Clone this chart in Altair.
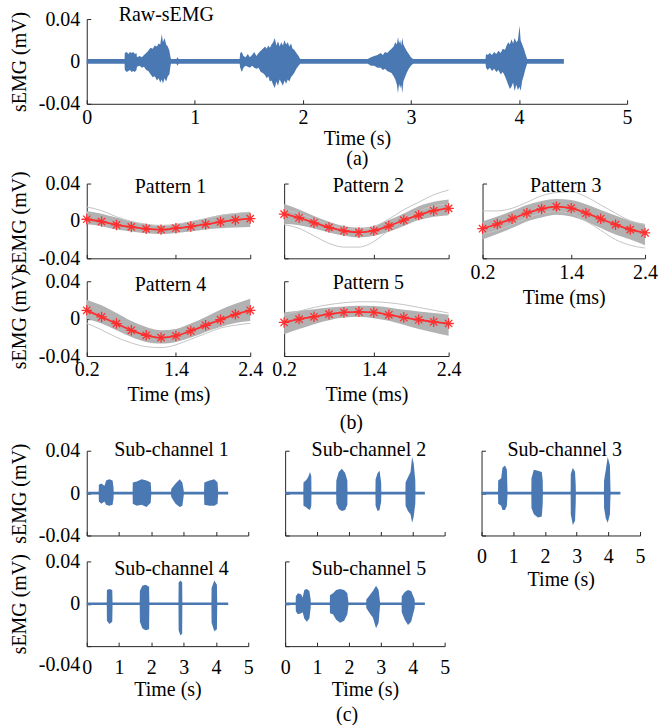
import altair as alt
import pandas as pd

FONT = "Liberation Serif"
BLUE = "#4a78b2"
BAND = "#b2b2b2"
THIN = "#c4c4c4"
RED = "#ff2f2f"
AXC = "#262626"
STAR = "M0,-1L0,1M-1,0L1,0M-0.7,-0.7L0.7,0.7M-0.7,0.7L0.7,-0.7"

# ---------------- (a) raw sEMG envelope: (time s, upper mV, lower mV) ----------------
RAW_ENV = [
    (0.000, 0.0022, -0.0022), (0.350, 0.0022, -0.0022),
    (0.352, 0.008, -0.008), (0.370, 0.009, -0.010), (0.385, 0.007, -0.009), (0.400, 0.009, -0.008),
    (0.415, 0.008, -0.010), (0.430, 0.009, -0.009), (0.445, 0.007, -0.010), (0.460, 0.008, -0.008),
    (0.465, 0.004, -0.005), (0.490, 0.005, -0.004), (0.510, 0.004, -0.006), (0.530, 0.006, -0.005),
    (0.550, 0.008, -0.008), (0.570, 0.010, -0.009), (0.590, 0.013, -0.012), (0.610, 0.012, -0.015),
    (0.630, 0.015, -0.014), (0.650, 0.014, -0.018), (0.665, 0.017, -0.016), (0.680, 0.016, -0.020),
    (0.695, 0.026, -0.017), (0.705, 0.018, -0.021), (0.720, 0.022, -0.016), (0.735, 0.016, -0.019),
    (0.750, 0.014, -0.014), (0.765, 0.010, -0.012), (0.775, 0.004, -0.004), (0.780, 0.0022, -0.0022),
    (0.830, 0.0022, -0.0022), (0.840, 0.004, -0.004), (0.850, 0.0022, -0.0022),
    (1.415, 0.0022, -0.0022),
    (1.420, 0.008, -0.006), (1.435, 0.009, -0.010), (1.450, 0.005, -0.006), (1.470, 0.004, -0.004),
    (1.490, 0.007, -0.005), (1.510, 0.004, -0.006), (1.530, 0.006, -0.004), (1.550, 0.009, -0.006),
    (1.570, 0.005, -0.007), (1.590, 0.008, -0.006), (1.610, 0.010, -0.010), (1.630, 0.012, -0.011),
    (1.650, 0.014, -0.013), (1.665, 0.012, -0.016), (1.680, 0.015, -0.014), (1.695, 0.013, -0.019),
    (1.710, 0.016, -0.018), (1.725, 0.018, -0.022), (1.740, 0.022, -0.025), (1.755, 0.015, -0.019),
    (1.770, 0.019, -0.023), (1.785, 0.014, -0.017), (1.800, 0.018, -0.020), (1.815, 0.015, -0.023),
    (1.830, 0.020, -0.018), (1.845, 0.016, -0.021), (1.860, 0.018, -0.017), (1.875, 0.014, -0.019),
    (1.890, 0.017, -0.015), (1.905, 0.012, -0.013), (1.920, 0.011, -0.011), (1.940, 0.008, -0.007),
    (1.960, 0.005, -0.004), (1.975, 0.0022, -0.0022),
    (2.600, 0.0022, -0.0022),
    (2.630, 0.004, -0.004), (2.660, 0.005, -0.004), (2.690, 0.006, -0.006), (2.720, 0.008, -0.006),
    (2.740, 0.006, -0.008), (2.760, 0.009, -0.007), (2.780, 0.008, -0.009), (2.800, 0.010, -0.010),
    (2.820, 0.012, -0.011), (2.840, 0.014, -0.014), (2.855, 0.018, -0.017), (2.870, 0.016, -0.022),
    (2.880, 0.023, -0.030), (2.890, 0.017, -0.021), (2.900, 0.020, -0.025), (2.910, 0.015, -0.022),
    (2.920, 0.022, -0.030), (2.930, 0.016, -0.019), (2.945, 0.013, -0.015), (2.960, 0.010, -0.011),
    (2.980, 0.007, -0.007), (3.000, 0.004, -0.004), (3.020, 0.0022, -0.0022),
    (3.690, 0.0022, -0.0022),
    (3.695, 0.007, -0.006), (3.710, 0.006, -0.008), (3.730, 0.008, -0.006), (3.750, 0.006, -0.009),
    (3.770, 0.009, -0.007), (3.790, 0.007, -0.010), (3.810, 0.010, -0.008), (3.830, 0.008, -0.012),
    (3.850, 0.012, -0.010), (3.870, 0.011, -0.014), (3.885, 0.015, -0.018), (3.900, 0.018, -0.022),
    (3.915, 0.016, -0.026), (3.930, 0.021, -0.024), (3.945, 0.017, -0.020), (3.960, 0.022, -0.028),
    (3.975, 0.018, -0.022), (3.990, 0.020, -0.027), (4.005, 0.034, -0.024), (4.015, 0.020, -0.028),
    (4.030, 0.016, -0.018), (4.045, 0.012, -0.013), (4.060, 0.007, -0.007), (4.075, 0.0022, -0.0022),
    (4.415, 0.0022, -0.0022),
]

# ---------------- (b) patterns ----------------
PT = [0.2, 0.4, 0.6, 0.8, 1.0, 1.2, 1.4, 1.6, 1.8, 2.0, 2.2, 2.4]

P1_MEAN = [0.0018, -0.0007, -0.0043, -0.0064, -0.0085, -0.0093, -0.0078, -0.0060, -0.0036, -0.0011, 0.0011, 0.0025]
P1_UP = [0.0107, 0.0078, 0.0036, -0.0007, -0.0036, -0.0050, -0.0036, -0.0007, 0.0028, 0.0064, 0.0082, 0.0096]
P1_LO = [-0.0036, -0.0057, -0.0093, -0.0114, -0.0132, -0.0139, -0.0128, -0.0114, -0.0093, -0.0078, -0.0071, -0.0064]
P1_OUT = [[0.0150, 0.0110, 0.0045, -0.0005, -0.0035, -0.0048, -0.0035, -0.0008, 0.0025, 0.0060, 0.0080, 0.0094]]

P2_MEAN = [0.0073, 0.0034, -0.0020, -0.0069, -0.0105, -0.0123, -0.0105, -0.0055, 0.0009, 0.0062, 0.0109, 0.0134]
P2_UP = [0.0180, 0.0123, 0.0052, -0.0009, -0.0055, -0.0073, -0.0055, 0.0009, 0.0080, 0.0158, 0.0205, 0.0230]
P2_LO = [-0.0034, -0.0045, -0.0080, -0.0123, -0.0158, -0.0176, -0.0158, -0.0116, -0.0055, 0.0009, 0.0045, 0.0062]
P2_OUT = [[-0.004, -0.008, -0.016, -0.024, -0.028, -0.028, -0.022, -0.010, 0.001, 0.010, 0.016, 0.018],
          [0.012, 0.008, 0.002, -0.004, -0.008, -0.009, -0.006, 0.002, 0.012, 0.020, 0.028, 0.033]]

P3_MEAN = [-0.0083, -0.0033, 0.0023, 0.0083, 0.0128, 0.0153, 0.0136, 0.0083, 0.0023, -0.0040, -0.0093, -0.0128]
P3_UP = [-0.0005, 0.0048, 0.0107, 0.0171, 0.0213, 0.0234, 0.0224, 0.0178, 0.0118, 0.0058, 0.0002, -0.0033]
P3_LO = [-0.0199, -0.0139, -0.0076, -0.0005, 0.0037, 0.0065, 0.0048, -0.0005, -0.0076, -0.0146, -0.0199, -0.0259]
P3_OUT = [[0.0107, 0.0107, 0.0136, 0.0199, 0.0269, 0.0304, 0.0312, 0.0259, 0.0171, 0.0083, 0.0002, -0.0040],
          [-0.014, -0.010, -0.004, 0.003, 0.008, 0.010, 0.008, 0.000, -0.010, -0.020, -0.026, -0.029]]

P4_MEAN = [0.0089, 0.0018, -0.0053, -0.0125, -0.0178, -0.0203, -0.0185, -0.0132, -0.0071, -0.0011, 0.0046, 0.0089]
P4_UP = [0.0203, 0.0142, 0.0061, -0.0025, -0.0089, -0.0125, -0.0110, -0.0053, 0.0018, 0.0096, 0.0160, 0.0214]
P4_LO = [0.0000, -0.0053, -0.0125, -0.0196, -0.0249, -0.0267, -0.0249, -0.0203, -0.0142, -0.0089, -0.0046, -0.0025]
P4_OUT = [[-0.005, -0.012, -0.020, -0.026, -0.030, -0.031, -0.028, -0.022, -0.016, -0.010, -0.007, -0.005]]

P5_MEAN = [-0.0041, -0.0005, 0.0020, 0.0048, 0.0066, 0.0073, 0.0066, 0.0041, 0.0012, -0.0012, -0.0034, -0.0052]
P5_UP = [0.0066, 0.0084, 0.0101, 0.0119, 0.0130, 0.0137, 0.0134, 0.0119, 0.0094, 0.0077, 0.0059, 0.0041]
P5_LO = [-0.0166, -0.0112, -0.0059, -0.0016, 0.0012, 0.0020, 0.0005, -0.0023, -0.0066, -0.0112, -0.0148, -0.0183]
P5_OUT = [[0.004, 0.008, 0.012, 0.015, 0.017, 0.018, 0.018, 0.017, 0.015, 0.012, 0.009, 0.006]]

# ---------------- (c) sub-channels ----------------
BASE_T = [0.0, 4.38]
BASE_V = [0.0, 0.0]

S1_T = [0.37, 0.375, 0.45, 0.55, 0.60, 0.70, 0.80, 0.83, 0.835,
        1.42, 1.425, 1.55, 1.70, 1.85, 1.98, 2.00,
        2.60, 2.62, 2.75, 2.88, 2.96, 3.00, 3.01,
        3.63, 3.64, 3.80, 3.95, 4.05, 4.07]
S1_HI = [0, 0.008, 0.009, 0.007, 0.012, 0.013, 0.012, 0.005, 0,
         0, 0.010, 0.011, 0.013, 0.012, 0.010, 0,
         0, 0.004, 0.009, 0.013, 0.010, 0.003, 0,
         0, 0.010, 0.012, 0.013, 0.010, 0]
S1_LO = [0, -0.008, -0.010, -0.008, -0.011, -0.012, -0.011, -0.005, 0,
         0, -0.010, -0.012, -0.011, -0.013, -0.009, 0,
         0, -0.004, -0.010, -0.013, -0.012, -0.003, 0,
         0, -0.011, -0.012, -0.012, -0.010, 0]

S2_T = [0.57, 0.575, 0.65, 0.72, 0.78, 0.82, 0.825,
        1.60, 1.605, 1.68, 1.78, 1.88, 1.95, 1.955,
        2.83, 2.835, 2.90, 2.96, 3.01, 3.015,
        3.77, 3.775, 3.85, 3.93, 3.98, 4.03, 4.08, 4.085]
S2_HI = [0, 0.010, 0.012, 0.015, 0.020, 0.016, 0,
         0, 0.012, 0.020, 0.023, 0.019, 0.012, 0,
         0, 0.013, 0.019, 0.021, 0.010, 0,
         0, 0.010, 0.015, 0.020, 0.034, 0.028, 0.012, 0]
S2_LO = [0, -0.012, -0.013, -0.015, -0.016, -0.012, 0,
         0, -0.010, -0.015, -0.017, -0.016, -0.011, 0,
         0, -0.012, -0.017, -0.016, -0.008, 0,
         0, -0.012, -0.017, -0.020, -0.028, -0.022, -0.010, 0]

S3_T = [0.52, 0.525, 0.62, 0.66, 0.74, 0.80, 0.82,
        1.57, 1.575, 1.65, 1.78, 1.90, 1.93, 1.935,
        2.81, 2.815, 2.88, 2.95, 2.97, 2.975,
        3.86, 3.865, 3.92, 3.98, 4.05, 4.07]
S3_HI = [0, 0.012, 0.014, 0.024, 0.026, 0.022, 0,
         0, 0.014, 0.022, 0.021, 0.020, 0.012, 0,
         0, 0.018, 0.024, 0.020, 0.008, 0,
         0, 0.012, 0.022, 0.034, 0.026, 0]
S3_LO = [0, -0.010, -0.012, -0.016, -0.016, -0.012, 0,
         0, -0.014, -0.020, -0.023, -0.022, -0.010, 0,
         0, -0.020, -0.030, -0.026, -0.010, 0,
         0, -0.014, -0.024, -0.028, -0.020, 0]

S4_T = [0.62, 0.625, 0.70, 0.79, 0.80,
        1.64, 1.645, 1.72, 1.82, 1.93, 1.94,
        2.84, 2.845, 2.90, 2.955, 2.96,
        3.86, 3.865, 3.95, 4.03, 4.04]
S4_HI = [0, 0.013, 0.014, 0.013, 0,
         0, 0.012, 0.017, 0.018, 0.016, 0,
         0, 0.020, 0.022, 0.020, 0,
         0, 0.015, 0.022, 0.018, 0]
S4_LO = [0, -0.016, -0.019, -0.017, 0,
         0, -0.017, -0.023, -0.025, -0.024, 0,
         0, -0.025, -0.030, -0.028, 0,
         0, -0.018, -0.026, -0.024, 0]

S5_T = [0.33, 0.335, 0.40, 0.50, 0.55, 0.60, 0.68, 0.76, 0.80, 0.805,
        1.40, 1.405, 1.50, 1.60, 1.72, 1.85, 1.95, 1.99,
        2.54, 2.545, 2.65, 2.75, 2.85, 2.93, 2.98,
        3.65, 3.655, 3.75, 3.85, 3.95, 4.06, 4.065]
S5_HI = [0, 0.007, 0.010, 0.009, 0.006, 0.013, 0.014, 0.012, 0.004, 0,
         0, 0.008, 0.010, 0.013, 0.014, 0.013, 0.010, 0,
         0, 0.004, 0.008, 0.012, 0.017, 0.013, 0,
         0, 0.007, 0.011, 0.013, 0.012, 0.004, 0]
S5_LO = [0, -0.007, -0.010, -0.009, -0.008, -0.014, -0.017, -0.014, -0.004, 0,
         0, -0.009, -0.010, -0.015, -0.018, -0.016, -0.010, 0,
         0, -0.004, -0.009, -0.013, -0.023, -0.018, 0,
         0, -0.008, -0.015, -0.020, -0.017, -0.004, 0]

# ---------------- helpers ----------------
YLAB = "datum.value == 0 ? '0' : (datum.value < 0 ? '-' : '') + format(abs(datum.value), '.2f')"
YDASH = [4, 4000]
YDOM = [-0.04, 0.04]


def xdash(h):
    return [0, h - 4, 4, 4000]


YS = alt.Scale(domain=YDOM, nice=False, zero=False)


def y_axis(show, extra=None):
    kw = dict(values=[-0.04, 0, 0.04], labels=show, labelExpr=YLAB,
              title="sEMG (mV)" if show else None, gridDash=YDASH,
              labelPadding=7, titlePadding=9)
    if extra:
        kw.update(extra)
    return alt.Axis(**kw)


def title_layer(name, xpos, xs, xa, ya, dx, dy, align="center"):
    df = pd.DataFrame({"x": [xpos], "y": [YDOM[1]], "label": [name]})
    return alt.Chart(df).mark_text(font=FONT, fontSize=20, color="black", align=align,
                                   baseline="alphabetic", dx=dx, dy=dy).encode(
        x=alt.X("x:Q", scale=xs, axis=xa), y=alt.Y("y:Q", scale=YS, axis=ya), text="label:N")


def pattern_chart(name, mean, up, lo, outs, ylab, xlab, width, tdy, height=75):
    base = pd.DataFrame({"t": PT, "mean": mean, "up": up, "lo": lo})
    rows = []
    for i, o in enumerate(outs):
        for t, v in zip(PT, o):
            rows.append({"t": t, "v": v, "c": i})
    outdf = pd.DataFrame(rows)
    dom = [PT[0], PT[-1]]
    xs = alt.Scale(domain=dom, nice=False, zero=False)
    xa = alt.Axis(values=[PT[0], PT[6], PT[-1]], labels=xlab, labelExpr="format(datum.value, '.1f')",
                  title="Time (ms)" if xlab else None, gridDash=xdash(height),
                  labelPadding=4, titlePadding=5)
    ya = y_axis(ylab)
    X = alt.X("t:Q", scale=xs, axis=xa)
    band = alt.Chart(base).mark_area(color=BAND, interpolate="monotone").encode(
        x=X, y=alt.Y("up:Q", scale=YS, axis=ya), y2="lo:Q")
    outl = alt.Chart(outdf).mark_line(color=THIN, strokeWidth=1, interpolate="monotone").encode(
        x=X, y=alt.Y("v:Q", scale=YS, axis=ya), detail="c:N")
    line = alt.Chart(base).mark_line(color=RED, strokeWidth=1.8, interpolate="monotone").encode(
        x=X, y=alt.Y("mean:Q", scale=YS, axis=ya))
    pts = alt.Chart(base).mark_point(shape=STAR, size=110, color=RED, strokeWidth=1.3,
                                     filled=False, opacity=1).encode(
        x=X, y=alt.Y("mean:Q", scale=YS, axis=ya))
    ttl = title_layer(name, (dom[0] + dom[1]) / 2, xs, xa, ya, 2, tdy)
    return alt.layer(band, outl, line, pts, ttl).properties(width=width, height=height)


def sub_chart(name, T, HI, LO, ylab, xlab, width, tdy, height=85, yextra=None):
    df = pd.DataFrame({"t": T, "hi": HI, "lo": LO})
    bdf = pd.DataFrame({"t": BASE_T, "v": BASE_V})
    dom = [0, 5]
    xs = alt.Scale(domain=dom, nice=False, zero=False)
    xa = alt.Axis(values=[0, 1, 2, 3, 4, 5], format="d", labels=xlab,
                  title="Time (s)" if xlab else None, gridDash=xdash(height),
                  labelPadding=11, titlePadding=3)
    ya = y_axis(ylab, yextra)
    X = alt.X("t:Q", scale=xs, axis=xa)
    baseline = alt.Chart(bdf).mark_line(color=BLUE, strokeWidth=2.6).encode(
        x=X, y=alt.Y("v:Q", scale=YS, axis=ya))
    area = alt.Chart(df).mark_area(color=BLUE, interpolate="linear").encode(
        x=X, y=alt.Y("hi:Q", scale=YS, axis=ya), y2="lo:Q")
    ttl = title_layer(name, (dom[0] + dom[1]) / 2, xs, xa, ya, 4, tdy)
    return alt.layer(baseline, area, ttl).properties(width=width, height=height)


# ---------------- (a) ----------------
raw = pd.DataFrame(RAW_ENV, columns=["t", "hi", "lo"])
xs_raw = alt.Scale(domain=[0, 5], nice=False, zero=False)
xa_raw = alt.Axis(values=[0, 1, 2, 3, 4, 5], format="d", title=["Time (s)", "(a)"],
                  titleLineHeight=20, labelPadding=4, titlePadding=1, gridDash=xdash(85))
ya_raw = y_axis(True)
raw_area = alt.Chart(raw).mark_area(color=BLUE, interpolate="linear").encode(
    x=alt.X("t:Q", scale=xs_raw, axis=xa_raw),
    y=alt.Y("hi:Q", scale=YS, axis=ya_raw),
    y2="lo:Q",
)
raw_title = title_layer("Raw-sEMG", 0, xs_raw, xa_raw, ya_raw, 32, 2, align="left")
chart_a = alt.layer(raw_area, raw_title).properties(width=542, height=85)

# ---------------- (b) ----------------
p1 = pattern_chart("Pattern 1", P1_MEAN, P1_UP, P1_LO, P1_OUT, True, False, 164, 9)
p2 = pattern_chart("Pattern 2", P2_MEAN, P2_UP, P2_LO, P2_OUT, False, False, 165, 8)
p3 = pattern_chart("Pattern 3", P3_MEAN, P3_UP, P3_LO, P3_OUT, False, True, 163, 8)
p4 = pattern_chart("Pattern 4", P4_MEAN, P4_UP, P4_LO, P4_OUT, True, True, 164, 10)
p5 = pattern_chart("Pattern 5", P5_MEAN, P5_UP, P5_LO, P5_OUT, False, True, 165, 8)

grid_b = alt.concat(
    p1, p2, p3, p4, p5, columns=3,
    spacing=alt.RowColnumber(row=23, column=34), bounds="flush", align="each",
    title=alt.TitleParams(["(b)", " "], orient="bottom", anchor="middle", dx=18, offset=8,
                          lineHeight=5, baseline="top",
                          font=FONT, fontSize=20, fontWeight="normal", color="black"),
)

# ---------------- (c) ----------------
s1 = sub_chart("Sub-channel 1", S1_T, S1_HI, S1_LO, True, False, 162, 5)
s2 = sub_chart("Sub-channel 2", S2_T, S2_HI, S2_LO, False, False, 160, 5)
s3 = sub_chart("Sub-channel 3", S3_T, S3_HI, S3_LO, False, True, 159, 5)
s4 = sub_chart("Sub-channel 4", S4_T, S4_HI, S4_LO, True, True, 162, 14,
               yextra={"labelOffset": {"condition": {"test": "datum.value < 0", "value": 18}, "value": 0}})
s5 = sub_chart("Sub-channel 5", S5_T, S5_HI, S5_LO, False, True, 160, 14)

grid_c = alt.concat(
    s1, s2, s3, s4, s5, columns=3,
    spacing=alt.RowColnumber(row=26, column=37), bounds="flush", align="each",
    title=alt.TitleParams("(c)", orient="bottom", anchor="middle", dx=20, offset=5,
                          font=FONT, fontSize=20, fontWeight="normal", color="black"),
)

chart = alt.vconcat(chart_a, grid_b, grid_c, spacing=2).properties(
    padding={"left": 9, "top": 4, "right": 0, "bottom": 0}
).configure_view(stroke=None).configure_axis(
    domainColor=AXC, domainWidth=1, labelFont=FONT, labelFontSize=20, labelColor="black",
    titleFont=FONT, titleFontSize=20, titleFontWeight="normal", titleColor="black",
    ticks=False, grid=True, gridColor=AXC, gridOpacity=1, gridWidth=1,
    labelFlush=False, labelOverlap=False,
).configure_title(font=FONT, fontSize=20, fontWeight="normal", color="black")

chart.save("out.html", embed_options={"renderer": "svg", "actions": False})
